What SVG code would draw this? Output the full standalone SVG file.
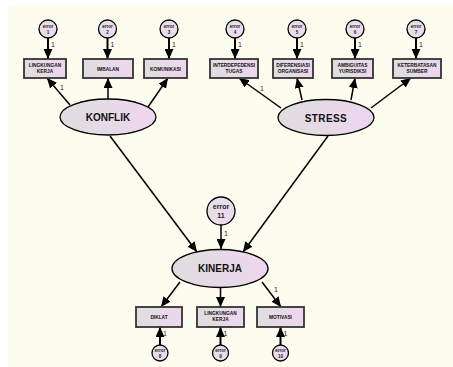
<svg xmlns="http://www.w3.org/2000/svg" width="453" height="367" viewBox="0 0 453 367">
<defs>
<linearGradient id="g" x1="0" y1="0" x2="1" y2="0">
<stop offset="0" stop-color="#dedede"/>
<stop offset="1" stop-color="#efd6ef"/>
</linearGradient>
<linearGradient id="ge" x1="0" y1="0" x2="1" y2="0">
<stop offset="0" stop-color="#e4e0e6"/>
<stop offset="1" stop-color="#f0d8f0"/>
</linearGradient>
<marker id="ah" markerUnits="userSpaceOnUse" markerWidth="11" markerHeight="9" refX="10" refY="4.5" orient="auto" viewBox="0 0 11 9">
<path d="M0,0 L10,4.5 L0,9 z" fill="#000"/>
</marker>
</defs>
<style>
.lat{fill:url(#g);stroke:#000;stroke-width:1.3}
.obs{fill:url(#g);stroke:#333;stroke-width:1.8}
.err{fill:url(#ge);stroke:#000;stroke-width:1.3}
.big{font-family:"Liberation Sans",Arial,sans-serif;font-weight:bold;font-size:10px;fill:#111;text-anchor:middle}
.sm{font-family:"Liberation Sans",Arial,sans-serif;font-weight:bold;font-size:4.8px;fill:#111;text-anchor:middle}
.et{font-family:"Liberation Sans",Arial,sans-serif;font-weight:bold;font-size:4.6px;fill:#222;text-anchor:middle}
.e11{font-family:"Liberation Sans",Arial,sans-serif;font-weight:bold;font-size:7px;fill:#222;text-anchor:middle}
.one{font-family:"Liberation Sans",Arial,sans-serif;font-size:7px;fill:#332222}
.c{stroke:#000;stroke-width:1.5;fill:none;marker-end:url(#ah)}
.ce{stroke:#000;stroke-width:2;fill:none;marker-end:url(#ah)}
</style>
<rect x="0" y="0" width="453" height="367" fill="#ffffff"/>
<rect x="8" y="6" width="445" height="361" fill="#fdfdef"/>

<g id="connectors">
<line class="ce" x1="48" y1="38" x2="48" y2="59"/>
<line class="ce" x1="107.5" y1="38" x2="107.5" y2="59"/>
<line class="ce" x1="169" y1="38" x2="169" y2="59"/>
<line class="ce" x1="235" y1="38" x2="235" y2="59"/>
<line class="ce" x1="297" y1="38" x2="297" y2="59"/>
<line class="ce" x1="355" y1="38" x2="355" y2="59"/>
<line class="ce" x1="416" y1="38" x2="416" y2="59"/>
<line class="c" x1="70" y1="105" x2="47" y2="78"/>
<line class="c" x1="108" y1="99" x2="108" y2="78"/>
<line class="c" x1="148" y1="107" x2="168" y2="78"/>
<line class="c" x1="281" y1="108" x2="239" y2="78"/>
<line class="c" x1="302" y1="100" x2="297" y2="78"/>
<line class="c" x1="351" y1="100" x2="355" y2="78"/>
<line class="c" x1="371" y1="108" x2="411" y2="78"/>
<line class="c" x1="110" y1="136" x2="197" y2="252"/>
<line class="c" x1="328" y1="136" x2="243" y2="252"/>
<line class="c" x1="221" y1="225" x2="221" y2="249"/>
<line class="c" x1="180" y1="282" x2="161" y2="307"/>
<line class="c" x1="220.5" y1="288" x2="220.5" y2="307"/>
<line class="c" x1="262" y1="282" x2="281" y2="307"/>
<line class="ce" x1="160" y1="345" x2="160" y2="327"/>
<line class="ce" x1="220.5" y1="345" x2="220.5" y2="327"/>
<line class="ce" x1="280.5" y1="345" x2="280.5" y2="327"/>
<text class="one" x="51" y="47">1</text>
<text class="one" x="110.5" y="47">1</text>
<text class="one" x="172" y="47">1</text>
<text class="one" x="238" y="47">1</text>
<text class="one" x="300" y="47">1</text>
<text class="one" x="358" y="47">1</text>
<text class="one" x="419" y="47">1</text>
<text class="one" x="60" y="90">1</text>
<text class="one" x="260" y="91">1</text>
<text class="one" x="224" y="236">1</text>
<text class="one" x="274" y="292">1</text>
<text class="one" x="163" y="336">1</text>
<text class="one" x="223.5" y="336">1</text>
<text class="one" x="283.5" y="336">1</text>
</g>

<g id="e1"><circle class="err" cx="48" cy="29" r="9"/><text class="et" x="48" y="28">error</text><text class="et" x="48" y="34">1</text></g>
<g id="e2"><circle class="err" cx="107.5" cy="29" r="9"/><text class="et" x="107.5" y="28">error</text><text class="et" x="107.5" y="34">2</text></g>
<g id="e3"><circle class="err" cx="169" cy="29" r="9"/><text class="et" x="169" y="28">error</text><text class="et" x="169" y="34">3</text></g>
<g id="e4"><circle class="err" cx="235" cy="29" r="9"/><text class="et" x="235" y="28">error</text><text class="et" x="235" y="34">4</text></g>
<g id="e5"><circle class="err" cx="297" cy="29" r="9"/><text class="et" x="297" y="28">error</text><text class="et" x="297" y="34">5</text></g>
<g id="e6"><circle class="err" cx="355" cy="29" r="9"/><text class="et" x="355" y="28">error</text><text class="et" x="355" y="34">6</text></g>
<g id="e7"><circle class="err" cx="416" cy="29" r="9"/><text class="et" x="416" y="28">error</text><text class="et" x="416" y="34">7</text></g>

<g id="lingkungan1"><rect class="obs" x="24" y="59" width="42" height="19"/><text class="sm" x="45" y="67">LINGKUNGAN</text><text class="sm" x="45" y="73">KERJA</text></g>
<g id="imbalan"><rect class="obs" x="83" y="59" width="50" height="19"/><text class="sm" x="108" y="70.5">IMBALAN</text></g>
<g id="komunikasi"><rect class="obs" x="144" y="59" width="43" height="19"/><text class="sm" x="165.5" y="70.5">KOMUNIKASI</text></g>
<g id="interdep"><rect class="obs" x="210" y="59" width="48" height="19"/><text class="sm" x="234" y="67">INTERDEPEDENSI</text><text class="sm" x="234" y="73">TUGAS</text></g>
<g id="diferensiasi"><rect class="obs" x="273" y="59" width="40" height="19"/><text class="sm" x="293" y="67">DIFERENSIASI</text><text class="sm" x="293" y="73">ORGANISASI</text></g>
<g id="ambiguitas"><rect class="obs" x="332" y="59" width="41" height="19"/><text class="sm" x="352.5" y="67">AMBIGUITAS</text><text class="sm" x="352.5" y="73">YURISDIKSI</text></g>
<g id="keterbatasan"><rect class="obs" x="393" y="59" width="48" height="19"/><text class="sm" x="417" y="67">KETERBATASAN</text><text class="sm" x="417" y="73">SUMBER</text></g>

<g id="konflik"><ellipse class="lat" cx="108" cy="117" rx="48" ry="18"/><text class="big" x="108" y="121">KONFLIK</text></g>
<g id="stress"><ellipse class="lat" cx="326" cy="117.5" rx="48" ry="18"/><text class="big" x="326" y="121.5" letter-spacing="0.4">STRESS</text></g>

<g id="e11"><circle class="err" cx="221" cy="211" r="14"/><text class="e11" x="221" y="209">error</text><text class="e11" x="221" y="218">11</text></g>
<g id="kinerja"><ellipse class="lat" cx="220" cy="268.5" rx="48" ry="19"/><text class="big" x="220" y="272">KINERJA</text></g>

<g id="diklat"><rect class="obs" x="136" y="307" width="46" height="20"/><text class="sm" x="159" y="319">DIKLAT</text></g>
<g id="lingkungan2"><rect class="obs" x="197" y="307" width="47" height="20"/><text class="sm" x="220.5" y="315">LINGKUNGAN</text><text class="sm" x="220.5" y="321">KERJA</text></g>
<g id="motivasi"><rect class="obs" x="257" y="307" width="47" height="20"/><text class="sm" x="280.5" y="319">MOTIVASI</text></g>

<g id="e8"><circle class="err" cx="160" cy="353" r="8"/><text class="et" x="160" y="352">error</text><text class="et" x="160" y="357.5">8</text></g>
<g id="e9"><circle class="err" cx="220.5" cy="353" r="8"/><text class="et" x="220.5" y="352">error</text><text class="et" x="220.5" y="357.5">9</text></g>
<g id="e10"><circle class="err" cx="280.5" cy="353" r="8"/><text class="et" x="280.5" y="352">error</text><text class="et" x="280.5" y="357.5">10</text></g>
</svg>
